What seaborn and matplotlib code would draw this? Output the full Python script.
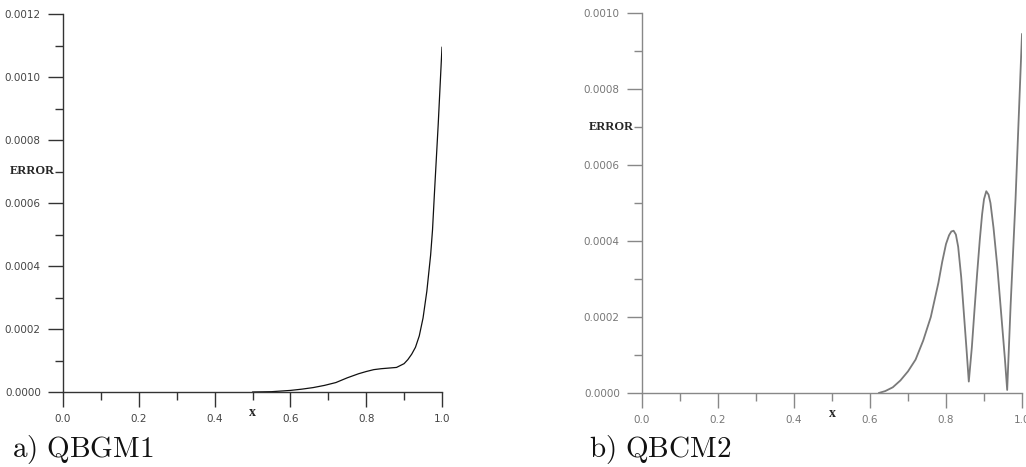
import numpy as np
import pandas as pd
import matplotlib
matplotlib.use("Agg")
import matplotlib.pyplot as plt
import seaborn as sns
from matplotlib.ticker import MultipleLocator, FormatStrFormatter

# ---- data ----
x_qbgm1 = [0.50, 0.55, 0.60, 0.63, 0.66, 0.69, 0.72, 0.75, 0.78, 0.80, 0.82,
           0.84, 0.86, 0.88, 0.90, 0.91, 0.92, 0.93, 0.94, 0.95, 0.96, 0.97,
           0.975, 0.98, 0.99, 1.00]
err_qbgm1 = [0.0, 0.01, 0.05, 0.09, 0.14, 0.21, 0.30, 0.45, 0.58, 0.65, 0.71,
             0.74, 0.76, 0.78, 0.90, 1.03, 1.20, 1.42, 1.78, 2.35, 3.20, 4.35,
             5.15, 6.30, 8.50, 10.95]  # x 1e-4

x_qbcm2 = [0.623, 0.64, 0.66, 0.68, 0.70, 0.72, 0.74, 0.76, 0.78, 0.79, 0.80,
           0.808, 0.814, 0.820, 0.826, 0.832, 0.840, 0.847, 0.854, 0.860,
           0.868, 0.875, 0.882, 0.889, 0.895, 0.900, 0.906, 0.912, 0.917,
           0.925, 0.935, 0.948, 0.955, 0.961, 0.970, 0.983, 0.990, 1.000]
err_qbcm2 = [0.0, 0.05, 0.15, 0.33, 0.57, 0.88, 1.38, 2.00, 2.90, 3.45, 3.92,
             4.15, 4.25, 4.27, 4.17, 3.85, 3.05, 2.10, 1.15, 0.30,
             1.20, 2.19, 3.15, 4.04, 4.70, 5.10, 5.31, 5.22, 5.00,
             4.35, 3.33, 1.75, 0.90, 0.08, 2.30, 5.10, 6.90, 9.45]  # x 1e-4

panel_labels = ["a) QBGM1", "b) QBCM2"]
y_max = [0.0012, 0.0010]
x_ticklabels = ["0.0", "0.2", "0.4", "0.6", "0.8", "1.0"]

df1 = pd.DataFrame({"x": x_qbgm1, "err": np.array(err_qbgm1) * 1e-4})
df2 = pd.DataFrame({"x": x_qbcm2, "err": np.array(err_qbcm2) * 1e-4})

sns.set_style("ticks")
plt.rcParams["mathtext.fontset"] = "cm"

W, H = 1026, 467
fig = plt.figure(figsize=(W / 100, H / 100), dpi=100)

# axes rectangles in pixels: (left, right, bottom_y, top_y)
rects = [(63, 442, 392, 14), (642, 1022, 393, 13)]
styles = [dict(line="#111111", lw=0.9, spine="#333333", text="#444444"),
          dict(line="#7a7a7a", lw=1.3, spine="#888888", text="#777777")]
datas = [df1, df2]
label_pos = [(12, 457), (589, 457)]

for i in range(2):
    l, r, b, t = rects[i]
    st = styles[i]
    ax = fig.add_axes([l / W, (H - b) / H, (r - l) / W, (b - t) / H])
    sns.lineplot(data=datas[i], x="x", y="err", ax=ax, color=st["line"],
                 lw=st["lw"], sort=False, estimator=None)
    ax.set_xlim(0, 1.0)
    ax.set_ylim(0, y_max[i])
    for s in ["top", "right"]:
        ax.spines[s].set_visible(False)
    for s in ["left", "bottom"]:
        ax.spines[s].set_color(st["spine"])
        ax.spines[s].set_linewidth(1.0)
    ax.xaxis.set_minor_locator(MultipleLocator(0.1))
    ax.set_xticks(np.arange(0, 1.01, 0.2))
    ax.set_xticklabels(x_ticklabels)
    ax.yaxis.set_major_locator(MultipleLocator(0.0002))
    ax.yaxis.set_minor_locator(MultipleLocator(0.0001))
    ax.yaxis.set_major_formatter(FormatStrFormatter("%.4f"))
    ax.tick_params(which="major", length=11, width=1.0, color=st["spine"],
                   labelsize=7.5, labelcolor=st["text"], pad=5)
    ax.tick_params(which="minor", length=6, width=1.0, color=st["spine"])
    ax.set_xlabel("x", family="Liberation Serif", weight="bold", fontsize=10,
                  va="center")
    ax.xaxis.set_label_coords(0.5, -0.055)
    ax.set_ylabel("ERROR", family="Liberation Serif", weight="bold",
                  fontsize=9, rotation=0, ha="right", va="center")
    ax.yaxis.set_label_coords(-0.022, 0.0007 / y_max[i])
    ax.patch.set_alpha(0)
    fig.text(label_pos[i][0] / W, (H - label_pos[i][1]) / H,
             r"$\mathrm{" + panel_labels[i].replace(" ", r"\ ") + "}$",
             fontsize=21, ha="left", va="baseline", color="#111111")

fig.savefig("out.png", dpi=100)
